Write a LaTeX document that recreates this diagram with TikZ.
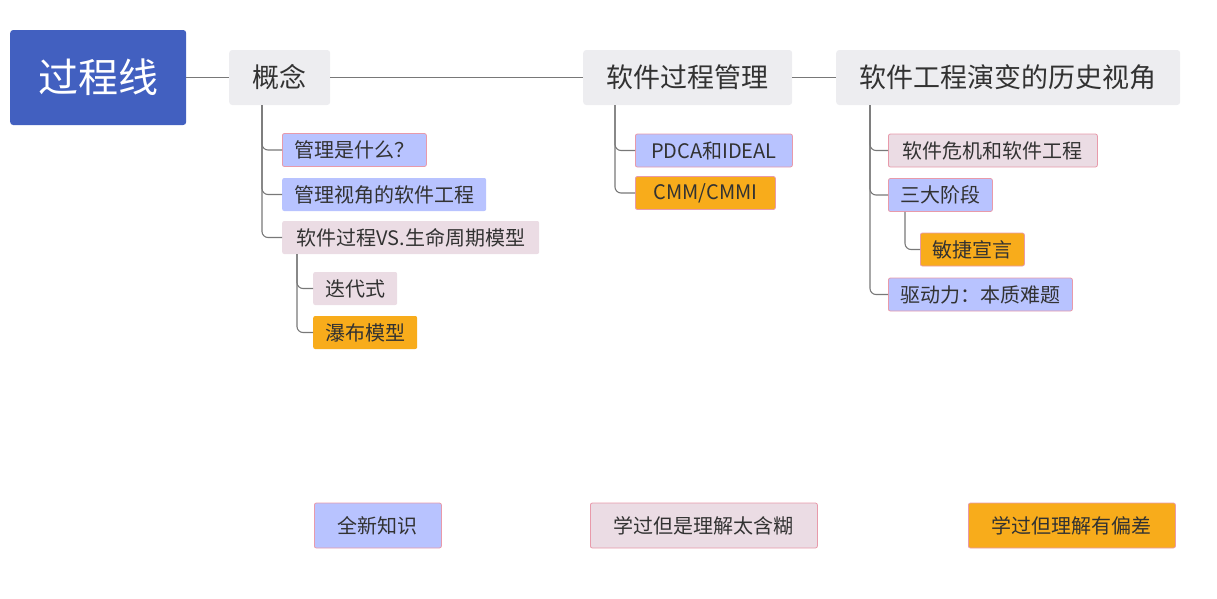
\documentclass[tikz,border=0pt]{standalone}
\usepackage{fontspec}
\setmainfont{Noto Sans CJK SC}
\usepackage{tikz}
\usetikzlibrary{positioning}

\definecolor{rootblue}{RGB}{66,96,192}
\definecolor{topicgray}{RGB}{237,237,240}
\definecolor{newblue}{RGB}{184,195,255}
\definecolor{vaguepink}{RGB}{235,220,228}
\definecolor{wrongorange}{RGB}{248,172,27}
\definecolor{edgepink}{RGB}{232,154,170}
\definecolor{linegray}{RGB}{120,120,120}
\definecolor{inkgray}{RGB}{50,50,50}

\begin{document}
\begin{tikzpicture}[
  x=1pt, y=-1pt,
  rootnode/.style={anchor=west, fill=rootblue, text=white, rounded corners=3pt, inner xsep=28pt, inner ysep=0pt, minimum height=95pt, font=\fontsize{40}{48}\selectfont},
  topicnode/.style={anchor=west, fill=topicgray, text=inkgray, rounded corners=3pt, inner xsep=23.5pt, inner ysep=0pt, minimum height=55pt, font=\fontsize{27}{32}\selectfont},
  leafnode/.style={anchor=west, text=inkgray, rounded corners=2pt, inner xsep=12pt, inner ysep=0pt, minimum height=33pt, font=\fontsize{20}{24}\selectfont},
  keynode/.style={anchor=west, text=inkgray, draw=edgepink, line width=0.8pt, rounded corners=2pt, inner xsep=23.5pt, inner ysep=0pt, minimum height=45pt, font=\fontsize{20}{24}\selectfont},
  newfill/.style={fill=newblue},
  vaguefill/.style={fill=vaguepink},
  wrongfill/.style={fill=wrongorange},
  framed/.style={draw=edgepink, line width=0.8pt},
  branch/.style={draw=linegray, line width=1.1pt, rounded corners=6pt}
]
  \useasboundingbox (0,0) rectangle (1217,598);

  \node[rootnode] (root) at (10,77.5) {过程线};
  \node[topicnode] (gainian) at (229,77.5) {概念};
  \node[topicnode] (guanli) at (583,77.5) {软件过程管理};
  \node[topicnode] (lishi) at (836,77.5) {软件工程演变的历史视角};
  \draw[branch] (root.east) -- (gainian.west);
  \draw[branch] (gainian.east) -- (guanli.west);
  \draw[branch] (guanli.east) -- (lishi.west);

  \node[leafnode, newfill, framed] (shenme) at (282,150) {管理是什么？};
  \node[leafnode, newfill] (shijiao) at (282,194.5) {管理视角的软件工程};
  \node[leafnode, vaguefill, minimum width=257pt] (moxing) at (282,237.5) {软件过程VS.生命周期模型};
  \node[leafnode, vaguefill] (diedai) at (313,288.5) {迭代式};
  \node[leafnode, wrongfill] (pubu) at (313,332.5) {瀑布模型};
  \draw[branch] ([xshift=33pt]gainian.south west) |- (shenme.west);
  \draw[branch] ([xshift=33pt]gainian.south west) |- (shijiao.west);
  \draw[branch] ([xshift=33pt]gainian.south west) |- (moxing.west);
  \draw[branch] ([xshift=15pt]moxing.south west) |- (diedai.west);
  \draw[branch] ([xshift=15pt]moxing.south west) |- (pubu.west);

  \node[leafnode, newfill, framed, minimum width=157pt] (pdca) at (635,150.5) {PDCA和IDEAL};
  \node[leafnode, wrongfill, framed, minimum width=140pt] (cmm) at (635,193) {CMM/CMMI};
  \draw[branch] ([xshift=32pt]guanli.south west) |- (pdca.west);
  \draw[branch] ([xshift=32pt]guanli.south west) |- (cmm.west);

  \node[leafnode, vaguefill, framed, minimum width=209pt] (weiji) at (888,150.5) {软件危机和软件工程};
  \node[leafnode, newfill, framed] (jieduan) at (888,195) {三大阶段};
  \node[leafnode, wrongfill, framed] (minjie) at (920,249.5) {敏捷宣言};
  \node[leafnode, newfill, framed] (nanti) at (888,294.5) {驱动力：本质难题};
  \draw[branch] ([xshift=34pt]lishi.south west) |- (weiji.west);
  \draw[branch] ([xshift=34pt]lishi.south west) |- (jieduan.west);
  \draw[branch] ([xshift=34pt]lishi.south west) |- (nanti.west);
  \draw[branch] ([xshift=17pt]jieduan.south west) |- (minjie.west);

  \node[keynode, newfill] (keynew) at (314,525.5) {全新知识};
  \node[keynode, vaguefill] (keyvague) at (590,525.5) {学过但是理解太含糊};
  \node[keynode, wrongfill] (keywrong) at (968,525.5) {学过但理解有偏差};
\end{tikzpicture}
\end{document}
